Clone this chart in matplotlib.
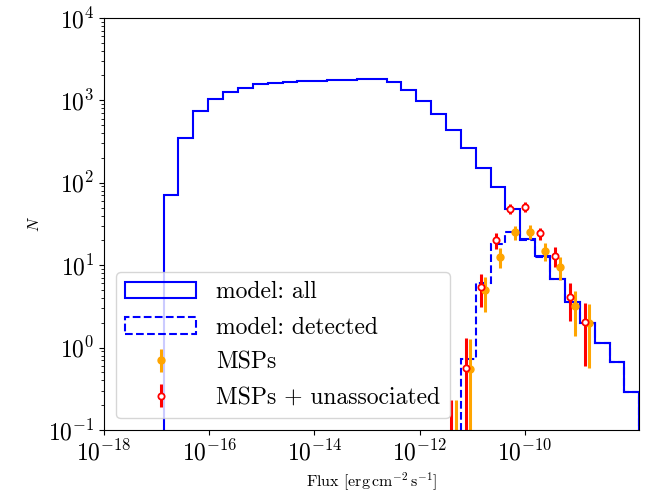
import numpy as np
import matplotlib.pyplot as plt
from matplotlib.ticker import LogLocator, NullLocator

plt.rcParams['font.family'] = 'serif'
plt.rcParams['font.serif'] = ['cmr10']
plt.rcParams['mathtext.fontset'] = 'cm'
plt.rcParams['axes.formatter.use_mathtext'] = True

# log10 of flux bin edges [erg cm^-2 s^-1]
log_edges = np.linspace(-18.0, -7.82, 37)

# model histograms (counts per bin)
model_all = [0, 0, 0, 0, 71, 352, 750, 1045, 1253, 1426, 1567, 1640, 1672, 1706,
             1735, 1754, 1782, 1790, 1795, 1660, 1340, 984, 684, 437, 267, 152,
             88, 47.6, 20.6, 12.9, 6.8, 3.57, 2.0, 1.15, 0.67, 0.29]
model_det = [0] * 24 + [0.72, 6.1, 18.1, 25.5, 20.3, 12.6, 6.7, 3.55, 2.0, 1.15, 0.67, 0.29]

# observed counts, bins 23..32
obs_bins = np.arange(23, 33)
msp_val = [0.05, 0.55, 5.0, 12.7, 25.0, 25.5, 15.0, 9.4, 3.2, 1.97]
msp_lo = [0.001, 0.001, 2.73, 9.2, 20.2, 20.5, 11.2, 6.6, 1.38, 0.56]
msp_hi = [0.23, 1.26, 7.1, 16.0, 29.9, 30.3, 18.7, 12.5, 4.9, 3.38]
unas_val = [0.05, 0.57, 5.5, 20.0, 47.6, 50.5, 24.4, 12.9, 4.15, 2.05]
unas_lo = [0.001, 0.001, 3.13, 15.7, 41.3, 44.0, 20.2, 9.4, 2.1, 0.59]
unas_hi = [0.23, 1.32, 7.8, 24.8, 54.8, 58.0, 28.0, 16.8, 6.1, 3.45]

edges = 10 ** log_edges
centers = np.sqrt(edges[:-1] * edges[1:])

fig, ax = plt.subplots(figsize=(6.47, 4.96), dpi=100)
fig.subplots_adjust(left=0.161, right=0.988, bottom=0.133, top=0.964)

ax.hist(centers, bins=edges, weights=model_all, histtype='step', color='blue',
        lw=1.5, label='model: all')
ax.hist(centers, bins=edges, weights=model_det, histtype='step', color='blue',
        lw=1.5, ls='--', label='model: detected')

xc = centers[obs_bins]
mv = np.array(msp_val)
ax.errorbar(xc * 1.1, mv, yerr=[mv - np.array(msp_lo), np.array(msp_hi) - mv],
            fmt='o', color='orange', ms=5, elinewidth=2.2, label='MSPs')
uv = np.array(unas_val)
ax.errorbar(xc * 0.9, uv, yerr=[uv - np.array(unas_lo), np.array(unas_hi) - uv],
            fmt='o', color='red', mfc='white', mec='red', mew=1.3, ms=4.5,
            elinewidth=2.2, label='MSPs + unassociated')

ax.set_xscale('log')
ax.set_yscale('log')
ax.set_xlim(edges[0], edges[-1])
ax.set_ylim(1e-1, 1e4)
ax.set_xticks([1e-18, 1e-16, 1e-14, 1e-12, 1e-10])
ax.xaxis.set_minor_locator(NullLocator())
ax.yaxis.set_major_locator(LogLocator(base=10, numticks=10))
ax.yaxis.set_minor_locator(LogLocator(base=10, subs=np.arange(2, 10), numticks=10))
ax.tick_params(labelsize=17)

ax.set_xlabel(r'Flux $[\mathrm{erg\,cm^{-2}\,s^{-1}}]$', fontsize=11.5)
ax.set_ylabel(r'$N$', fontsize=11.5)

ax.legend(loc='lower left', fontsize=17, handlelength=3.0, handletextpad=0.85,
          labelspacing=0.55)

fig.savefig('out.png', dpi=100)
